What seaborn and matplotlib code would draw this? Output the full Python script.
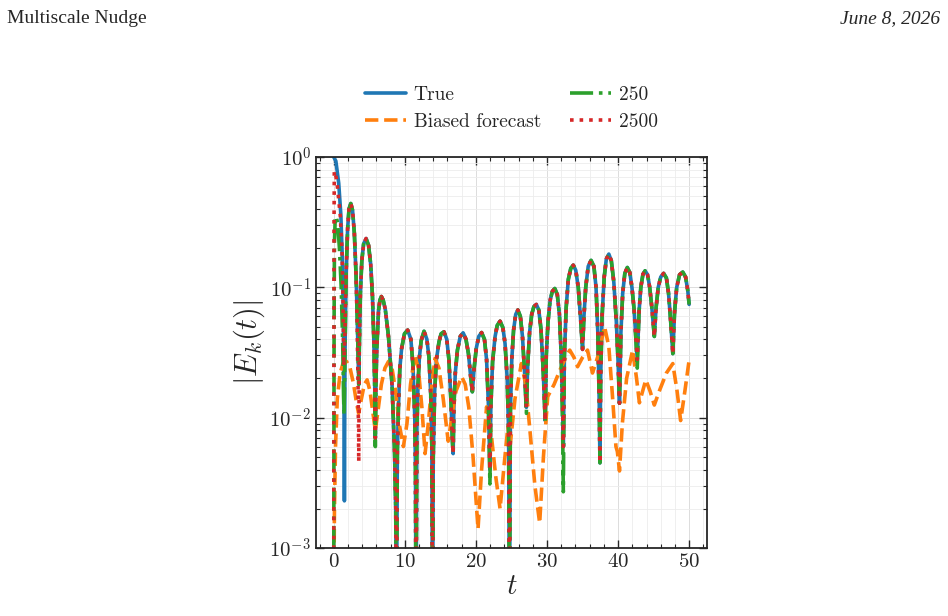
import numpy as np
import pandas as pd
import matplotlib
matplotlib.use("Agg")
import matplotlib.pyplot as plt
import seaborn as sns
from matplotlib.ticker import MultipleLocator, FuncFormatter, LogLocator

# |E_k(t)| (peaks, dips and a few shoulder points per lobe)
t_true = [0.0, 0.3, 0.7, 1.0, 1.2, 1.35, 1.45, 1.5,
          1.58, 1.75, 1.95, 2.15, 2.4, 2.65, 2.9, 3.15, 3.3, 3.42, 3.52,
          3.6, 3.75, 3.95, 4.2, 4.55, 4.9, 5.2, 5.45, 5.65, 5.78, 5.85,
          5.95, 6.07, 6.3, 6.5, 6.7, 6.95, 7.25, 7.7, 8.2, 8.55, 8.72, 8.82,
          8.95, 9.1, 9.3, 9.55, 9.95, 10.4, 10.85, 11.15, 11.4, 11.5, 11.57,
          11.7, 11.85, 12.05, 12.3, 12.7, 13.1, 13.4, 13.65, 13.8, 13.9,
          14.0, 14.2, 14.45, 14.8, 15.1, 15.5, 15.9, 16.2, 16.5, 16.7, 16.8,
          16.9, 17.1, 17.4, 17.8, 18.2, 18.6, 18.95, 19.25, 19.5,
          19.75, 20.05, 20.4, 20.8, 21.2, 21.5, 21.75, 21.9, 21.97,
          22.1, 22.35, 22.7, 23.0, 23.4, 23.8, 24.1, 24.4, 24.6, 24.72,
          24.85, 25.05, 25.3, 25.6, 25.9, 26.25, 26.55, 26.85, 27.1,
          27.3, 27.55, 27.85, 28.15, 28.5, 28.85, 29.15, 29.45, 29.65, 29.75,
          29.9, 30.15, 30.45, 30.75, 31.1, 31.45, 31.75, 32.0, 32.2, 32.3,
          32.45, 32.7, 33.0, 33.35, 33.7, 34.05, 34.4, 34.75, 35.0,
          35.2, 35.45, 35.8, 36.2, 36.6, 36.9, 37.15, 37.35, 37.45,
          37.55, 37.75, 38.05, 38.35, 38.7, 39.05, 39.4, 39.75, 40.0, 40.2,
          40.4, 40.65, 40.95, 41.3, 41.65, 41.95, 42.25, 42.5, 42.7,
          42.95, 43.2, 43.5, 43.8, 44.15, 44.45, 44.75, 45.1,
          45.35, 45.65, 46.0, 46.4, 46.8, 47.1, 47.4, 47.7,
          47.95, 48.25, 48.65, 49.1, 49.5, 49.8, 50.0]
e_true = [1.0, 0.93, 0.63, 0.36, 0.17, 0.06, 0.015, 0.0023,
          0.03, 0.13, 0.28, 0.40, 0.44, 0.39, 0.26, 0.12, 0.06, 0.03, 0.018,
          0.035, 0.09, 0.16, 0.215, 0.237, 0.21, 0.15, 0.085, 0.038, 0.016, 0.007,
          0.02, 0.035, 0.066, 0.08, 0.085, 0.08, 0.068, 0.042, 0.018, 0.0056, 0.002, 0.0002,
          0.0055, 0.012, 0.024, 0.034, 0.044, 0.047, 0.04, 0.025, 0.01, 0.004, 0.0002,
          0.0083, 0.018, 0.029, 0.039, 0.046, 0.04, 0.029, 0.015, 0.006, 0.0002,
          0.005, 0.016, 0.028, 0.038, 0.044, 0.0456, 0.04, 0.028, 0.013, 0.0065, 0.0053,
          0.012, 0.022, 0.033, 0.042, 0.0448, 0.04, 0.031, 0.021, 0.0158,
          0.024, 0.034, 0.042, 0.045, 0.04, 0.028, 0.013, 0.006, 0.004,
          0.012, 0.027, 0.042, 0.051, 0.055, 0.049, 0.037, 0.02, 0.0078, 0.0002,
          0.011, 0.028, 0.047, 0.062, 0.067, 0.06, 0.042, 0.022, 0.012,
          0.026, 0.045, 0.062, 0.071, 0.074, 0.067, 0.048, 0.024, 0.013, 0.0095,
          0.03, 0.055, 0.08, 0.093, 0.098, 0.088, 0.062, 0.03, 0.012, 0.006,
          0.03, 0.07, 0.115, 0.14, 0.148, 0.135, 0.1, 0.055, 0.0334,
          0.06, 0.1, 0.145, 0.161, 0.145, 0.1, 0.045, 0.013, 0.0045,
          0.02, 0.06, 0.12, 0.165, 0.18, 0.16, 0.11, 0.055, 0.027, 0.0129,
          0.045, 0.09, 0.128, 0.142, 0.13, 0.1, 0.068, 0.042, 0.028,
          0.065, 0.1, 0.126, 0.134, 0.125, 0.1, 0.07, 0.042,
          0.07, 0.1, 0.12, 0.128, 0.118, 0.09, 0.055, 0.031,
          0.065, 0.1, 0.125, 0.131, 0.12, 0.095, 0.074]

t_bias = [0.0, 0.1, 0.25, 0.5, 0.9, 1.3, 1.8, 2.3, 2.8, 3.2, 3.5,
          3.9, 4.3, 4.7, 5.1, 5.5, 5.85, 6.2, 6.7, 7.2, 7.7, 8.2, 8.7, 9.2, 9.8,
          10.3, 10.8, 11.4, 11.9, 12.4, 12.85, 13.3, 13.8, 14.25, 14.8, 15.4, 16.1,
          16.6, 17.2, 18.0, 18.5, 19.0, 19.6, 20.3, 20.8, 21.5, 22.1, 22.8, 23.4,
          24.0, 24.5, 24.8, 25.5, 26.4, 27.0, 27.6, 28.3, 28.97, 29.5, 30.1, 31.0,
          31.8, 32.5, 33.2, 33.8, 34.3, 35.0, 35.7, 36.4, 37.2, 38.1,
          38.7, 39.2, 39.7, 39.9, 40.2, 40.6, 41.2, 42.05, 42.6, 43.0, 43.9,
          44.5, 45.1, 45.8, 46.8, 47.7, 48.3, 48.8, 49.4, 50.0]
e_bias = [0.0004, 0.002, 0.006, 0.014, 0.022, 0.026, 0.027, 0.024, 0.018, 0.013, 0.0108,
          0.014, 0.018, 0.0195, 0.016, 0.011, 0.008, 0.011, 0.018, 0.024, 0.027, 0.024, 0.016, 0.009, 0.006,
          0.009, 0.018, 0.03, 0.024, 0.012, 0.0053, 0.009, 0.018, 0.0285, 0.024, 0.014, 0.0066,
          0.01, 0.016, 0.0206, 0.018, 0.012, 0.005, 0.0014, 0.004, 0.0121, 0.008, 0.0035, 0.002,
          0.0045, 0.0085, 0.006, 0.014, 0.026, 0.018, 0.008, 0.003, 0.00155, 0.005, 0.0145, 0.018,
          0.023, 0.028, 0.033, 0.029, 0.0246, 0.029, 0.033, 0.022, 0.03, 0.05,
          0.035, 0.015, 0.006, 0.0055, 0.0039, 0.009, 0.02, 0.033, 0.02, 0.013, 0.0195,
          0.016, 0.0125, 0.016, 0.022, 0.026, 0.016, 0.0095, 0.016, 0.0277]

t_250 = [0.0, 0.05, 0.1, 0.2, 0.35, 0.55, 0.8, 1.05, 1.25, 1.38, 1.45,
         1.58, 1.75, 1.95, 2.15, 2.4, 2.65, 2.9, 3.15, 3.3, 3.42, 3.52,
         3.6, 3.75, 3.95, 4.2, 4.55, 4.9, 5.2, 5.45, 5.65, 5.78, 5.85,
         5.95, 6.07, 6.3, 6.5, 6.7, 6.95, 7.25, 7.7, 8.2, 8.55, 8.72, 8.82,
         8.95, 9.1, 9.3, 9.55, 9.95, 10.4, 10.85, 11.15, 11.4, 11.5, 11.57,
         11.7, 11.85, 12.05, 12.3, 12.7, 13.1, 13.4, 13.65, 13.8, 13.9,
         14.0, 14.2, 14.45, 14.8, 15.1, 15.5, 15.9, 16.2, 16.5, 16.7, 16.8,
         16.9, 17.1, 17.4, 17.8, 18.2, 18.6, 18.95, 19.25, 19.5,
         19.75, 20.05, 20.4, 20.8, 21.2, 21.5, 21.75, 21.9, 21.97,
         22.1, 22.35, 22.7, 23.0, 23.4, 23.8, 24.1, 24.4, 24.6, 24.72,
         24.85, 25.05, 25.3, 25.6, 25.9, 26.25, 26.55, 26.85, 27.1,
         27.3, 27.55, 27.85, 28.15, 28.5, 28.85, 29.15, 29.45, 29.65, 29.75,
         29.9, 30.15, 30.45, 30.75, 31.1, 31.45, 31.75, 32.0, 32.2, 32.3,
         32.45, 32.7, 33.0, 33.35, 33.7, 34.05, 34.4, 34.75, 35.0,
         35.2, 35.45, 35.8, 36.2, 36.6, 36.9, 37.15, 37.35, 37.45,
         37.55, 37.75, 38.05, 38.35, 38.7, 39.05, 39.4, 39.75, 40.0, 40.2,
         40.4, 40.65, 40.95, 41.3, 41.65, 41.95, 42.25, 42.5, 42.7,
         42.95, 43.2, 43.5, 43.8, 44.15, 44.45, 44.75, 45.1,
         45.35, 45.65, 46.0, 46.4, 46.8, 47.1, 47.4, 47.7,
         47.95, 48.25, 48.65, 49.1, 49.5, 49.8, 50.0]
e_250 = [0.0005, 0.05, 0.22, 0.33, 0.35, 0.31, 0.2, 0.1, 0.04, 0.015, 0.0105,
         0.03, 0.13, 0.28, 0.40, 0.44, 0.39, 0.26, 0.12, 0.06, 0.03, 0.018,
         0.035, 0.09, 0.16, 0.215, 0.237, 0.21, 0.15, 0.085, 0.038, 0.014, 0.006,
         0.02, 0.035, 0.066, 0.08, 0.085, 0.08, 0.068, 0.042, 0.018, 0.0056, 0.002, 0.0002,
         0.0055, 0.012, 0.024, 0.034, 0.044, 0.047, 0.04, 0.025, 0.01, 0.004, 0.0002,
         0.0083, 0.018, 0.029, 0.039, 0.046, 0.04, 0.029, 0.015, 0.006, 0.0002,
         0.005, 0.016, 0.028, 0.038, 0.044, 0.0456, 0.04, 0.028, 0.013, 0.0065, 0.0053,
         0.012, 0.022, 0.033, 0.042, 0.0448, 0.04, 0.031, 0.021, 0.0158,
         0.024, 0.034, 0.042, 0.045, 0.04, 0.028, 0.013, 0.005, 0.0031,
         0.012, 0.027, 0.042, 0.051, 0.055, 0.049, 0.037, 0.02, 0.0078, 0.0002,
         0.011, 0.028, 0.047, 0.062, 0.067, 0.06, 0.042, 0.022, 0.0108,
         0.026, 0.045, 0.062, 0.071, 0.074, 0.067, 0.048, 0.024, 0.013, 0.0093,
         0.03, 0.055, 0.08, 0.093, 0.098, 0.088, 0.062, 0.03, 0.008, 0.0027,
         0.03, 0.07, 0.115, 0.14, 0.148, 0.135, 0.1, 0.055, 0.0334,
         0.06, 0.1, 0.145, 0.161, 0.145, 0.1, 0.045, 0.013, 0.0045,
         0.02, 0.06, 0.12, 0.165, 0.18, 0.16, 0.11, 0.055, 0.027, 0.0129,
         0.045, 0.09, 0.128, 0.142, 0.13, 0.1, 0.068, 0.04, 0.024,
         0.065, 0.1, 0.126, 0.134, 0.125, 0.1, 0.07, 0.042,
         0.07, 0.1, 0.12, 0.128, 0.118, 0.09, 0.055, 0.031,
         0.065, 0.1, 0.125, 0.131, 0.12, 0.095, 0.074]

t_2500 = [0.0, 0.04, 0.08, 0.23, 0.47, 0.93, 1.17, 1.32, 1.42,
          1.55, 1.75, 1.95, 2.15, 2.4, 2.65, 2.9, 3.15, 3.3, 3.42, 3.52,
          3.6, 3.75, 3.95, 4.2, 4.55, 4.9, 5.2, 5.45, 5.65, 5.78, 5.85,
          5.95, 6.07, 6.3, 6.5, 6.7, 6.95, 7.25, 7.7, 8.2, 8.55, 8.72, 8.82,
          8.95, 9.1, 9.3, 9.55, 9.95, 10.4, 10.85, 11.15, 11.4, 11.5, 11.57,
          11.7, 11.85, 12.05, 12.3, 12.7, 13.1, 13.4, 13.65, 13.8, 13.9,
          14.0, 14.2, 14.45, 14.8, 15.1, 15.5, 15.9, 16.2, 16.5, 16.7, 16.8,
          16.9, 17.1, 17.4, 17.8, 18.2, 18.6, 18.95, 19.25, 19.5,
          19.75, 20.05, 20.4, 20.8, 21.2, 21.5, 21.75, 21.9, 21.97,
          22.1, 22.35, 22.7, 23.0, 23.4, 23.8, 24.1, 24.4, 24.6, 24.72,
          24.85, 25.05, 25.3, 25.6, 25.9, 26.25, 26.55, 26.85, 27.1,
          27.3, 27.55, 27.85, 28.15, 28.5, 28.85, 29.15, 29.45, 29.65, 29.75,
          29.9, 30.15, 30.45, 30.75, 31.1, 31.45, 31.75, 32.0, 32.2, 32.3,
          32.45, 32.7, 33.0, 33.35, 33.7, 34.05, 34.4, 34.75, 35.0,
          35.2, 35.45, 35.8, 36.2, 36.6, 36.9, 37.15, 37.35, 37.45,
          37.55, 37.75, 38.05, 38.35, 38.7, 39.05, 39.4, 39.75, 40.0, 40.2,
          40.4, 40.65, 40.95, 41.3, 41.65, 41.95, 42.25, 42.5, 42.7,
          42.95, 43.2, 43.5, 43.8, 44.15, 44.45, 44.75, 45.1,
          45.35, 45.65, 46.0, 46.4, 46.8, 47.1, 47.4, 47.7,
          47.95, 48.25, 48.65, 49.1, 49.5, 49.8, 50.0]
e_2500 = [0.0005, 0.3, 0.78, 0.75, 0.63, 0.35, 0.19, 0.07, 0.025,
          0.04, 0.13, 0.28, 0.40, 0.44, 0.39, 0.26, 0.12, 0.05, 0.018, 0.0046,
          0.035, 0.09, 0.16, 0.215, 0.237, 0.21, 0.15, 0.085, 0.038, 0.016, 0.007,
          0.02, 0.035, 0.066, 0.08, 0.085, 0.08, 0.068, 0.042, 0.018, 0.0056, 0.002, 0.0002,
          0.0055, 0.012, 0.024, 0.034, 0.044, 0.047, 0.04, 0.025, 0.01, 0.004, 0.0002,
          0.0083, 0.018, 0.029, 0.039, 0.046, 0.04, 0.029, 0.015, 0.006, 0.0002,
          0.005, 0.016, 0.028, 0.038, 0.044, 0.0456, 0.04, 0.028, 0.013, 0.0065, 0.0053,
          0.012, 0.022, 0.033, 0.042, 0.0448, 0.04, 0.031, 0.021, 0.0158,
          0.024, 0.034, 0.042, 0.045, 0.04, 0.028, 0.013, 0.006, 0.004,
          0.012, 0.027, 0.042, 0.051, 0.055, 0.049, 0.037, 0.02, 0.0078, 0.0002,
          0.011, 0.028, 0.047, 0.062, 0.067, 0.06, 0.042, 0.022, 0.012,
          0.026, 0.045, 0.062, 0.071, 0.074, 0.067, 0.048, 0.024, 0.013, 0.0095,
          0.03, 0.055, 0.08, 0.093, 0.098, 0.088, 0.062, 0.03, 0.012, 0.006,
          0.03, 0.07, 0.115, 0.14, 0.148, 0.135, 0.1, 0.055, 0.0334,
          0.06, 0.1, 0.145, 0.161, 0.145, 0.1, 0.045, 0.013, 0.0045,
          0.02, 0.06, 0.12, 0.165, 0.18, 0.16, 0.11, 0.055, 0.027, 0.0129,
          0.045, 0.09, 0.128, 0.142, 0.13, 0.1, 0.068, 0.042, 0.028,
          0.065, 0.1, 0.126, 0.134, 0.125, 0.1, 0.07, 0.042,
          0.07, 0.1, 0.12, 0.128, 0.118, 0.09, 0.055, 0.031,
          0.065, 0.1, 0.125, 0.131, 0.12, 0.095, 0.074]

labels = ["True", "Biased forecast", "250", "2500"]
colors = ["#1f77b4", "#ff7f0e", "#2ca02c", "#d62728"]
styles = ["-", "--", "-.", ":"]

sns.set_style("ticks")
plt.rcParams["font.family"] = "serif"
plt.rcParams["font.serif"] = ["cmr10", "DejaVu Serif"]
plt.rcParams["mathtext.fontset"] = "cm"
plt.rcParams["axes.unicode_minus"] = False
plt.rcParams["axes.formatter.use_mathtext"] = True

fig = plt.figure(figsize=(9.48, 6.16), dpi=100)
ax = fig.add_axes([0.3333, 0.1104, 0.4124, 0.6347])

series = [(t_true, e_true), (t_bias, e_bias), (t_250, e_250), (t_2500, e_2500)]
for (tt, ee), lab, c, ls in zip(series, labels, colors, styles):
    df = pd.DataFrame({"t": tt, "E": ee})
    sns.lineplot(data=df, x="t", y="E", ax=ax, color=c, linestyle=ls,
                 linewidth=2.6, label=lab, estimator=None, sort=False)

ax.set_yscale("log")
ax.set_ylim(1e-3, 1)
ax.set_xlim(-2.5, 52.5)
ax.xaxis.set_major_locator(MultipleLocator(10))
ax.xaxis.set_minor_locator(MultipleLocator(2))
ax.yaxis.set_major_locator(LogLocator(base=10))
ax.yaxis.set_minor_locator(LogLocator(base=10, subs=np.arange(2, 10)))
ax.yaxis.set_major_formatter(FuncFormatter(lambda v, p: r"$10^{%d}$" % round(np.log10(v))))

ax.grid(True, which="major", color="#dcdcdc", linewidth=0.7)
ax.grid(True, which="minor", color="#ececec", linewidth=0.6)
ax.tick_params(which="both", direction="in", top=True, right=True, labelsize=15)
ax.tick_params(which="major", length=6, width=1.0)
ax.tick_params(which="minor", length=3, width=0.8)
for s in ax.spines.values():
    s.set_linewidth(1.3)

ax.set_xlabel(r"$t$", fontsize=21, labelpad=2)
ax.set_ylabel(r"$|E_k(t)|$", fontsize=22)
ax.yaxis.set_label_coords(-0.125, 0.527)

ax.legend(loc="lower center", bbox_to_anchor=(0.5, 1.022), ncol=2, frameon=False,
          fontsize=14, handlelength=2.1, columnspacing=1.5, labelspacing=0.45,
          handletextpad=0.4)

fig.text(0.007, 0.963, "Multiscale Nudge", family="Liberation Serif", fontsize=14,
         ha="left", va="baseline")
fig.text(0.992, 0.963, "June 8, 2026", family="Liberation Serif", style="italic",
         fontsize=14, ha="right", va="baseline")

fig.savefig("out.png", dpi=100)
